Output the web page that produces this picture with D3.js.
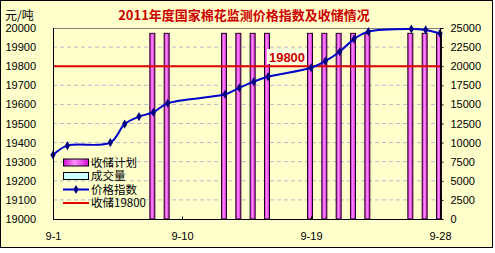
<!DOCTYPE html>
<html>
<head>
<meta charset="utf-8">
<style>
  body { margin: 0; background: #fff; }
  svg { display: block; }
  .num { font-family: 'Liberation Sans', Arial, sans-serif; font-size: 11px; fill: #000; }
  .cjk { font-family: 'Noto Sans CJK SC', sans-serif; font-size: 12px; fill: #000; }
  .leg { font-family: 'Noto Sans CJK SC', sans-serif; font-size: 11.5px; fill: #000; }
  .axis .domain { display: none; }
</style>
</head>
<body>
<svg width="495" height="253"></svg>
<script src="https://d3js.org/d3.v7.min.js"></script>
<script>
// categories: every day of September 1..28
const days = d3.range(1, 29).map(d => "9-" + d)
const dayLabels = ["9-1", "9-10", "9-19", "9-28"]

// price index (left axis), null = no trading that day
const priceIndex = [19335, 19384, null, null, 19400, 19497, 19536, 19559, 19606, null, null, null,
  19653, 19687, 19719, 19745, null, null, 19792, 19827, 19876, 19942, 19981, null, null,
  19995, 19990, 19972]

// storage plan (right axis), 0 = nothing offered
const storagePlan = [0, 0, 0, 0, 0, 0, 0, 24300, 24300, 0, 0, 0,
  24300, 24300, 24300, 24300, 0, 0, 24300, 24300, 24300, 24300, 24300, 0, 0,
  24300, 24300, 24300]
// deals (right axis), all zero
const deals = days.map(() => 0)

const storagePrice = 19800
const leftTicks = d3.range(19000, 20001, 100)
const rightTicks = d3.range(0, 25001, 2500)
const legendNames = ["收储计划", "成交量", "价格指数", "收储19800"]

const svg = d3.select("svg")
const margin = { top: 28, right: 55, bottom: 34, left: 53 }
const plotR = 440, plotB = 219

// chart background and frame
svg.append("rect").attr("x", 0.5).attr("y", 0.5).attr("width", 492).attr("height", 247)
  .attr("fill", "#FFFFCC").attr("stroke", "#000")

const defs = svg.append("defs")
const grad = defs.append("linearGradient").attr("id", "barGrad").attr("x1", 0).attr("x2", 1).attr("y1", 0).attr("y2", 0)
grad.append("stop").attr("offset", "0%").attr("stop-color", "#D010D0")
grad.append("stop").attr("offset", "45%").attr("stop-color", "#FF90FF")
grad.append("stop").attr("offset", "100%").attr("stop-color", "#D010D0")

const x = d3.scalePoint().domain(days).range([margin.left, plotR])
const yL = d3.scaleLinear().domain([19000, 20000]).range([plotB, margin.top])
const yR = d3.scaleLinear().domain([0, 25000]).range([plotB, margin.top])

// gridlines
svg.append("g").selectAll("line")
  .data(leftTicks.filter(v => v > 19000 && v < 20000))
  .join("line")
  .attr("x1", margin.left).attr("x2", plotR)
  .attr("y1", d => yL(d)).attr("y2", d => yL(d))
  .attr("stroke", "#B8B8C8").attr("stroke-dasharray", "4,3")

// plot top frame
svg.append("line").attr("x1", margin.left).attr("x2", plotR).attr("y1", margin.top + 0.5).attr("y2", margin.top + 0.5)
  .attr("stroke", "#808080")

// bars: storage plan (left slot) and deals (right slot)
svg.append("g").selectAll("rect")
  .data(days.map((d, i) => ({ d, v: storagePlan[i] })).filter(e => e.v > 0))
  .join("rect")
  .attr("x", e => x(e.d) - 3.5)
  .attr("width", 5)
  .attr("y", e => yR(e.v))
  .attr("height", e => yR(0) - yR(e.v))
  .attr("fill", "url(#barGrad)")
  .attr("stroke", "#200020").attr("stroke-width", 1)

svg.append("g").selectAll("rect")
  .data(days.map((d, i) => ({ d, v: deals[i] })).filter(e => e.v > 0))
  .join("rect")
  .attr("x", e => x(e.d) + 1.5)
  .attr("width", 5)
  .attr("y", e => yR(e.v))
  .attr("height", e => yR(0) - yR(e.v))
  .attr("fill", "#CCFFFF").attr("stroke", "#000")

// storage price line
svg.append("line").attr("x1", margin.left).attr("x2", plotR)
  .attr("y1", yL(storagePrice)).attr("y2", yL(storagePrice))
  .attr("stroke", "#E00000").attr("stroke-width", 2)

// price index line
const pts = days.map((d, i) => ({ d, v: priceIndex[i] })).filter(e => e.v != null)
const line = d3.line().x(e => x(e.d)).y(e => yL(e.v)).curve(d3.curveCatmullRom)
svg.append("path").attr("d", line(pts)).attr("fill", "none")
  .attr("stroke", "#0000CC").attr("stroke-width", 2)
const diamond = d3.symbol().type(d3.symbolDiamond).size(24)
svg.append("g").selectAll("path")
  .data(pts).join("path")
  .attr("transform", e => `translate(${x(e.d)},${yL(e.v)})`)
  .attr("d", diamond)
  .attr("fill", "#000080")

// axes lines
svg.append("line").attr("x1", margin.left + 0.5).attr("x2", margin.left + 0.5).attr("y1", margin.top).attr("y2", plotB)
  .attr("stroke", "#000")
svg.append("line").attr("x1", plotR + 0.5).attr("x2", plotR + 0.5).attr("y1", margin.top).attr("y2", plotB)
  .attr("stroke", "#000")
svg.append("line").attr("x1", margin.left).attr("x2", plotR + 1).attr("y1", plotB + 0.5).attr("y2", plotB + 0.5)
  .attr("stroke", "#000")

// left axis labels
const axL = svg.append("g").attr("class", "axis")
  .attr("transform", `translate(${margin.left},0)`)
  .call(d3.axisLeft(yL).tickValues(leftTicks).tickSize(0).tickPadding(17).tickFormat(d3.format("d")))
axL.selectAll("text").attr("class", "num").attr("font-family", null).attr("font-size", null)

// right axis
const axR = svg.append("g").attr("class", "axis")
  .attr("transform", `translate(${plotR + 0.5},0)`)
  .call(d3.axisRight(yR).tickValues(rightTicks).tickSize(3).tickPadding(7).tickFormat(d3.format("d")))
axR.selectAll("line").attr("stroke", "#000")
axR.selectAll("text").attr("class", "num").attr("font-family", null).attr("font-size", null)

// bottom axis
const axB = svg.append("g").attr("class", "axis")
  .attr("transform", `translate(0,${plotB + 0.5})`)
  .call(d3.axisBottom(x).tickValues(dayLabels).tickSize(-3).tickPadding(13))
axB.selectAll("line").attr("stroke", "#000")
axB.selectAll("text").attr("class", "num").attr("font-family", null).attr("font-size", null)

// title and unit
svg.append("text").attr("x", 244).attr("y", 20).attr("text-anchor", "middle")
  .attr("font-family", "'Noto Sans CJK SC', sans-serif").attr("font-size", 13).attr("font-weight", "bold")
  .attr("fill", "#CC0000").text("2011年度国家棉花监测价格指数及收储情况")
svg.append("text").attr("class", "cjk").attr("x", 5).attr("y", 20).text("元/吨")

// 19800 label
svg.append("rect").attr("x", 267).attr("y", 49).attr("width", 40).attr("height", 15).attr("fill", "#FFFFE6")
svg.append("text").attr("x", 287).attr("y", 62).attr("text-anchor", "middle")
  .attr("font-family", "'Liberation Sans', Arial, sans-serif").attr("font-size", 13).attr("font-weight", "bold")
  .attr("fill", "#CC0000").text(storagePrice)

// legend
const lg = svg.append("g").attr("transform", "translate(63,162.5)")
const rowH = 13.5
legendNames.forEach((name, i) => {
  const row = lg.append("g").attr("transform", `translate(0,${i * rowH})`)
  if (i === 0) {
    row.append("rect").attr("x", 0.5).attr("y", -3.5).attr("width", 25).attr("height", 7)
      .attr("fill", "url(#barGrad)").attr("stroke", "#000")
  } else if (i === 1) {
    row.append("rect").attr("x", 0.5).attr("y", -3.5).attr("width", 25).attr("height", 7)
      .attr("fill", "#CCFFFF").attr("stroke", "#000")
  } else if (i === 2) {
    row.append("line").attr("x1", 0).attr("x2", 26).attr("stroke", "#0000CC").attr("stroke-width", 2)
    row.append("path").attr("transform", "translate(13,0)").attr("d", diamond).attr("fill", "#000080")
  } else {
    row.append("line").attr("x1", 0).attr("x2", 26).attr("stroke", "#E00000").attr("stroke-width", 2)
  }
  row.append("text").attr("class", "leg").attr("x", 28).attr("y", 4).text(name)
})
</script>
</body>
</html>
